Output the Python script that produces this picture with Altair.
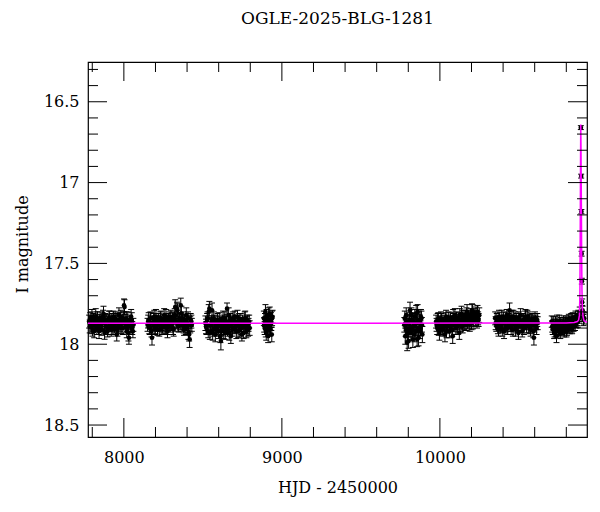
import altair as alt
import pandas as pd

# ---- photometry, by season (HJD-2450000, I mag, error) ----
s17_hjd = [7780, 7787, 7794, 7801, 7808, 7815, 7822, 7829, 7836, 7843, 7850, 7857, 7864, 7871, 7878, 7885, 7892, 7899, 7906, 7913,
           7920, 7927, 7934, 7941, 7948, 7955, 7962, 7969, 7976, 7983, 7990, 7997, 8004, 8011, 8018, 8025, 8032, 8039, 8046, 8053, 8060]
s17_mag = [17.86, 17.84, 17.89, 17.91, 17.85, 17.88, 17.83, 17.90, 17.87, 17.92, 17.84, 17.88, 17.86, 17.81, 17.93, 17.87, 17.85, 17.90, 17.84, 17.88,
           17.91, 17.86, 17.83, 17.89, 17.87, 17.94, 17.85, 17.82, 17.88, 17.90, 17.86, 17.84, 17.77, 17.89, 17.92, 17.85, 17.96, 17.87, 17.83, 17.90, 17.88]
s17_err = [0.040, 0.035, 0.045, 0.040, 0.040, 0.035, 0.050, 0.040, 0.040, 0.045, 0.040, 0.035, 0.040, 0.045, 0.040, 0.040, 0.035, 0.040, 0.045, 0.040,
           0.040, 0.040, 0.035, 0.040, 0.050, 0.040, 0.040, 0.045, 0.040, 0.035, 0.040, 0.040, 0.045, 0.040, 0.040, 0.050, 0.040, 0.040, 0.045, 0.040, 0.040]
s17b_hjd = [7784, 7791, 7798, 7805, 7812, 7819, 7826, 7833, 7840, 7847, 7854, 7861, 7868, 7875, 7882, 7889, 7896, 7903, 7910, 7917,
            7924, 7931, 7938, 7945, 7952, 7959, 7966, 7973, 7980, 7987, 7994, 8001, 8008, 8015, 8022, 8029, 8036, 8043, 8050, 8057]
s17b_mag = [17.89, 17.86, 17.83, 17.88, 17.92, 17.85, 17.87, 17.84, 17.90, 17.86, 17.88, 17.91, 17.83, 17.87, 17.85, 17.89, 17.92, 17.86, 17.84, 17.87,
            17.85, 17.90, 17.88, 17.84, 17.86, 17.91, 17.89, 17.85, 17.83, 17.87, 17.90, 17.76, 17.86, 17.84, 17.88, 17.93, 17.86, 17.89, 17.85, 17.92]

s18_hjd = [8150, 8157, 8164, 8171, 8178, 8185, 8192, 8199, 8206, 8213, 8220, 8227, 8234, 8241, 8248, 8255, 8262, 8269, 8276, 8283,
           8290, 8297, 8304, 8311, 8318, 8325, 8332, 8339, 8346, 8353, 8360, 8367, 8374, 8381, 8388, 8395, 8402, 8409, 8416, 8423, 8430]
s18_mag = [17.88, 17.85, 17.90, 17.84, 17.96, 17.87, 17.83, 17.89, 17.86, 17.91, 17.85, 17.88, 17.84, 17.90, 17.87, 17.82, 17.89, 17.86, 17.92, 17.85,
           17.88, 17.83, 17.87, 17.90, 17.84, 17.77, 17.86, 17.79, 17.89, 17.85, 17.76, 17.88, 17.84, 17.91, 17.86, 17.82, 17.89, 17.93, 17.97, 17.85, 17.88]
s18_err = [0.040, 0.045, 0.040, 0.035, 0.045, 0.040, 0.040, 0.045, 0.040, 0.035, 0.040, 0.040, 0.045, 0.040, 0.035, 0.040, 0.045, 0.040, 0.040, 0.040,
           0.035, 0.040, 0.045, 0.040, 0.040, 0.045, 0.040, 0.040, 0.035, 0.040, 0.045, 0.040, 0.040, 0.035, 0.040, 0.045, 0.040, 0.040, 0.050, 0.040, 0.040]
s18b_hjd = [8154, 8161, 8168, 8175, 8182, 8189, 8196, 8203, 8210, 8217, 8224, 8231, 8238, 8245, 8252, 8259, 8266, 8273, 8280, 8287,
            8294, 8301, 8308, 8315, 8322, 8329, 8336, 8343, 8350, 8357, 8364, 8371, 8378, 8385, 8392, 8399, 8406, 8413, 8420, 8427]
s18b_mag = [17.86, 17.89, 17.84, 17.92, 17.87, 17.85, 17.90, 17.83, 17.88, 17.86, 17.91, 17.84, 17.87, 17.89, 17.85, 17.88, 17.83, 17.90, 17.86, 17.84,
            17.89, 17.87, 17.85, 17.91, 17.82, 17.86, 17.78, 17.88, 17.84, 17.87, 17.81, 17.86, 17.89, 17.85, 17.90, 17.87, 17.84, 17.94, 17.88, 17.86]

s19_hjd = [8516, 8523, 8530, 8537, 8544, 8551, 8558, 8565, 8572, 8579, 8586, 8593, 8600, 8607, 8614, 8621, 8628, 8635, 8642, 8649,
           8656, 8663, 8670, 8677, 8684, 8691, 8698, 8705, 8712, 8719, 8726, 8733, 8740, 8747, 8754, 8761, 8768, 8775, 8782, 8789, 8796]
s19_mag = [17.87, 17.90, 17.84, 17.80, 17.93, 17.88, 17.79, 17.91, 17.86, 17.94, 17.89, 17.85, 17.92, 17.87, 17.98, 17.90, 17.84, 17.88, 17.93, 17.86,
           17.91, 17.82, 17.89, 17.95, 17.87, 17.84, 17.90, 17.86, 17.92, 17.83, 17.88, 17.91, 17.85, 17.94, 17.87, 17.89, 17.84, 17.92, 17.86, 17.88, 17.90]
s19_err = [0.045, 0.040, 0.040, 0.045, 0.040, 0.035, 0.045, 0.040, 0.040, 0.045, 0.040, 0.040, 0.045, 0.040, 0.055, 0.040, 0.045, 0.040, 0.040, 0.035,
           0.040, 0.045, 0.040, 0.045, 0.040, 0.040, 0.035, 0.040, 0.045, 0.040, 0.040, 0.045, 0.040, 0.040, 0.035, 0.040, 0.045, 0.040, 0.040, 0.040, 0.045]
s19b_hjd = [8520, 8527, 8534, 8541, 8548, 8555, 8562, 8569, 8576, 8583, 8590, 8597, 8604, 8611, 8618, 8625, 8632, 8639, 8646, 8653,
            8660, 8667, 8674, 8681, 8688, 8695, 8702, 8709, 8716, 8723, 8730, 8737, 8744, 8751, 8758, 8765, 8772, 8779, 8786, 8793]
s19b_mag = [17.89, 17.85, 17.92, 17.78, 17.88, 17.86, 17.93, 17.84, 17.90, 17.87, 17.91, 17.88, 17.85, 17.95, 17.89, 17.86, 17.92, 17.84, 17.90, 17.78,
            17.87, 17.93, 17.85, 17.88, 17.91, 17.86, 17.83, 17.89, 17.87, 17.92, 17.85, 17.88, 17.90, 17.86, 17.93, 17.84, 17.89, 17.87, 17.91, 17.86]

s20_hjd = [8886, 8891, 8896, 8901, 8906, 8911, 8916, 8921, 8926, 8931, 8936, 8941]
s20_mag = [17.84, 17.90, 17.80, 17.93, 17.86, 17.88, 17.82, 17.91, 17.87, 17.85, 17.94, 17.83]
s20_err = [0.045, 0.040, 0.045, 0.045, 0.040, 0.040, 0.045, 0.040, 0.040, 0.045, 0.045, 0.040]
s20b_hjd = [8888, 8893, 8898, 8903, 8908, 8913, 8918, 8923, 8928, 8933, 8938]
s20b_mag = [17.88, 17.85, 17.91, 17.83, 17.89, 17.95, 17.86, 17.81, 17.90, 17.87, 17.84]

s22_hjd = [9775, 9781, 9787, 9793, 9799, 9805, 9811, 9817, 9823, 9829, 9835, 9841, 9847, 9853, 9859, 9865, 9871, 9877, 9883, 9889]
s22_mag = [17.88, 17.95, 17.82, 17.99, 17.86, 17.91, 17.79, 17.93, 17.85, 17.97, 17.89, 17.83, 17.92, 17.87, 17.80, 17.96, 17.86, 17.90, 17.84, 17.94]
s22_err = [0.045, 0.050, 0.045, 0.050, 0.045, 0.045, 0.050, 0.045, 0.045, 0.050, 0.045, 0.045, 0.050, 0.045, 0.045, 0.050, 0.045, 0.045, 0.045, 0.050]
s22b_hjd = [9778, 9784, 9790, 9796, 9802, 9808, 9814, 9820, 9826, 9832, 9838, 9844, 9850, 9856, 9862, 9868, 9874, 9880, 9886]
s22b_mag = [17.84, 17.90, 17.87, 17.93, 17.98, 17.85, 17.89, 17.82, 17.91, 17.86, 17.94, 17.88, 17.81, 17.97, 17.90, 17.85, 17.92, 17.83, 17.88]

s23_hjd = [9976, 9983, 9990, 9997, 10004, 10011, 10018, 10025, 10032, 10039, 10046, 10053, 10060, 10067, 10074, 10081, 10088, 10095, 10102, 10109,
           10116, 10123, 10130, 10137, 10144, 10151, 10158, 10165, 10172, 10179, 10186, 10193, 10200, 10207, 10214, 10221, 10228, 10235, 10242, 10249]
s23_mag = [17.86, 17.90, 17.84, 17.93, 17.88, 17.85, 17.91, 17.87, 17.94, 17.83, 17.89, 17.86, 17.92, 17.84, 17.88, 17.95, 17.85, 17.82, 17.90, 17.87,
           17.84, 17.93, 17.86, 17.81, 17.89, 17.85, 17.83, 17.88, 17.80, 17.86, 17.84, 17.82, 17.87, 17.80, 17.85, 17.83, 17.81, 17.86, 17.84, 17.82]
s23_err = [0.040, 0.040, 0.035, 0.045, 0.040, 0.040, 0.040, 0.035, 0.045, 0.040, 0.040, 0.040, 0.040, 0.035, 0.040, 0.045, 0.040, 0.040, 0.040, 0.040,
           0.035, 0.040, 0.040, 0.045, 0.040, 0.040, 0.040, 0.035, 0.045, 0.040, 0.040, 0.040, 0.040, 0.045, 0.040, 0.035, 0.040, 0.040, 0.040, 0.045]
s23b_hjd = [9979, 9986, 9993, 10000, 10007, 10014, 10021, 10028, 10035, 10042, 10049, 10056, 10063, 10070, 10077, 10084, 10091, 10098, 10105, 10112,
            10119, 10126, 10133, 10140, 10147, 10154, 10161, 10168, 10175, 10182, 10189, 10196, 10203, 10210, 10217, 10224, 10231, 10238, 10245]
s23b_mag = [17.88, 17.85, 17.91, 17.87, 17.84, 17.90, 17.86, 17.89, 17.85, 17.92, 17.87, 17.84, 17.89, 17.86, 17.91, 17.83, 17.88, 17.86, 17.84, 17.89,
            17.85, 17.82, 17.88, 17.86, 17.83, 17.87, 17.85, 17.81, 17.86, 17.84, 17.88, 17.83, 17.79, 17.86, 17.82, 17.85, 17.83, 17.80, 17.85]

s24_hjd = [10350, 10357, 10364, 10371, 10378, 10385, 10392, 10399, 10406, 10413, 10420, 10427, 10434, 10441, 10448, 10455, 10462, 10469, 10476, 10483,
           10490, 10497, 10504, 10511, 10518, 10525, 10532, 10539, 10546, 10553, 10560, 10567, 10574, 10581, 10588, 10595, 10602, 10609, 10616]
s24_mag = [17.84, 17.88, 17.86, 17.91, 17.85, 17.89, 17.83, 17.87, 17.92, 17.86, 17.84, 17.90, 17.85, 17.79, 17.88, 17.83, 17.91, 17.86, 17.84, 17.89,
           17.87, 17.93, 17.85, 17.82, 17.88, 17.86, 17.90, 17.84, 17.87, 17.83, 17.89, 17.85, 17.91, 17.86, 17.88, 17.96, 17.84, 17.87, 17.85]
s24_err = [0.040, 0.040, 0.035, 0.040, 0.045, 0.040, 0.040, 0.040, 0.045, 0.040, 0.035, 0.040, 0.040, 0.045, 0.040, 0.040, 0.040, 0.035, 0.040, 0.040,
           0.045, 0.040, 0.040, 0.040, 0.035, 0.040, 0.040, 0.045, 0.040, 0.040, 0.040, 0.035, 0.040, 0.040, 0.040, 0.045, 0.040, 0.040, 0.040]
s24b_hjd = [10353, 10360, 10367, 10374, 10381, 10388, 10395, 10402, 10409, 10416, 10423, 10430, 10437, 10444, 10451, 10458, 10465, 10472, 10479, 10486,
            10493, 10500, 10507, 10514, 10521, 10528, 10535, 10542, 10549, 10556, 10563, 10570, 10577, 10584, 10591, 10598, 10605, 10612, 10619]
s24b_mag = [17.87, 17.85, 17.90, 17.83, 17.88, 17.86, 17.91, 17.84, 17.87, 17.89, 17.82, 17.86, 17.88, 17.84, 17.90, 17.86, 17.83, 17.88, 17.91, 17.85,
            17.87, 17.84, 17.89, 17.86, 17.92, 17.85, 17.87, 17.83, 17.89, 17.86, 17.84, 17.90, 17.87, 17.85, 17.92, 17.88, 17.86, 17.90, 17.87]

s25_hjd = [10708, 10714, 10720, 10726, 10732, 10738, 10744, 10750, 10756, 10762, 10768, 10774, 10780, 10786, 10792, 10798, 10804, 10810, 10816, 10822,
           10828, 10834, 10840, 10846, 10852, 10858, 10864, 10870, 10876, 10882, 10885]
s25_mag = [17.86, 17.90, 17.88, 17.92, 17.87, 17.95, 17.89, 17.91, 17.86, 17.93, 17.88, 17.90, 17.87, 17.92, 17.89, 17.86, 17.91, 17.88, 17.85, 17.90,
           17.87, 17.89, 17.84, 17.88, 17.86, 17.83, 17.87, 17.85, 17.82, 17.84, 17.80]
s25_err = [0.035, 0.040, 0.035, 0.035, 0.040, 0.040, 0.035, 0.035, 0.040, 0.035, 0.035, 0.040, 0.035, 0.035, 0.040, 0.035, 0.035, 0.040, 0.035, 0.035,
           0.040, 0.035, 0.035, 0.040, 0.035, 0.035, 0.030, 0.035, 0.030, 0.030, 0.030]
s25b_hjd = [10711, 10717, 10723, 10729, 10735, 10741, 10747, 10753, 10759, 10765, 10771, 10777, 10783, 10789, 10795, 10801, 10807, 10813, 10819, 10825,
            10831, 10837, 10843, 10849, 10855, 10861, 10867, 10873, 10879]
s25b_mag = [17.89, 17.87, 17.93, 17.88, 17.91, 17.86, 17.92, 17.88, 17.90, 17.87, 17.91, 17.89, 17.86, 17.90, 17.88, 17.92, 17.87, 17.89, 17.86, 17.88,
            17.85, 17.90, 17.87, 17.85, 17.88, 17.86, 17.84, 17.86, 17.83]

event_hjd = [10892, 10894, 10895.5, 10897, 10898.5, 10900.5, 10903, 10906, 10909, 10913]
event_mag = [16.66, 16.96, 17.18, 17.44, 17.61, 17.74, 17.79, 17.83, 17.85, 17.84]
event_err = [0.012, 0.012, 0.013, 0.015, 0.018, 0.020, 0.025, 0.030, 0.035, 0.035]

# ---- microlensing model curve ----
model_hjd = [7773, 8500, 9500, 10500, 10800, 10850, 10870, 10878, 10883, 10886, 10888, 10890, 10891.5,
             10893, 10895, 10897, 10899, 10902, 10906, 10912, 10931]
model_mag = [17.870, 17.870, 17.870, 17.869, 17.868, 17.866, 17.860, 17.850, 17.820, 17.700, 17.350, 16.900, 16.640,
             16.780, 17.080, 17.420, 17.660, 17.780, 17.830, 17.855, 17.865]

# ---- axis ticks ----
x_major = [8000, 9000, 10000]
x_minor = [7800, 8200, 8400, 8600, 8800, 9200, 9400, 9600, 9800, 10200, 10400, 10600, 10800]
y_major = [16.5, 17, 17.5, 18, 18.5]
y_minor = [16.3, 16.4, 16.6, 16.7, 16.8, 16.9, 17.1, 17.2, 17.3, 17.4, 17.6, 17.7, 17.8, 17.9,
           18.1, 18.2, 18.3, 18.4]

FONT = "DejaVu Serif"
W, H = 499, 375
XDOM = [7773, 10931]
YDOM = [16.254, 18.574]

seasons = [(s17_hjd, s17_mag, s17_err), (s17b_hjd, s17b_mag, s17_err[:len(s17b_hjd)]),
           (s18_hjd, s18_mag, s18_err), (s18b_hjd, s18b_mag, s18_err[:len(s18b_hjd)]),
           (s19_hjd, s19_mag, s19_err), (s19b_hjd, s19b_mag, s19_err[:len(s19b_hjd)]),
           (s20_hjd, s20_mag, s20_err), (s20b_hjd, s20b_mag, s20_err[:len(s20b_hjd)]),
           (s22_hjd, s22_mag, s22_err), (s22b_hjd, s22b_mag, s22_err[:len(s22b_hjd)]),
           (s23_hjd, s23_mag, s23_err), (s23b_hjd, s23b_mag, s23_err[:len(s23b_hjd)]),
           (s24_hjd, s24_mag, s24_err), (s24b_hjd, s24b_mag, s24_err[:len(s24b_hjd)]),
           (s25_hjd, s25_mag, s25_err), (s25b_hjd, s25b_mag, s25_err[:len(s25b_hjd)]),
           (event_hjd, event_mag, event_err)]
phot = pd.concat([pd.DataFrame({"hjd": h, "mag": m, "err": e}) for h, m, e in seasons], ignore_index=True)
phot["lo"] = phot["mag"] - phot["err"]
phot["hi"] = phot["mag"] + phot["err"]
model = pd.DataFrame({"hjd": model_hjd, "mag": model_mag})

xscale = alt.Scale(domain=XDOM, nice=False, zero=False)
yscale = alt.Scale(domain=YDOM, nice=False, zero=False, reverse=True)
xaxis = alt.Axis(title="HJD - 2450000", values=x_major, format="d", ticks=False, tickSize=0, domain=False,
                 grid=False, labelFont=FONT, labelFontSize=16, labelColor="black", labelPadding=20,
                 labelBaseline="middle", titleFont=FONT, titleFontSize=16, titleFontWeight="normal",
                 titleColor="black", titleY=50, titleBaseline="middle")
yaxis = alt.Axis(title="I magnitude", values=y_major, format="~g", ticks=False, tickSize=0, domain=False,
                 grid=False, labelFont=FONT, labelFontSize=16, labelColor="black", labelPadding=9,
                 titleFont=FONT, titleFontSize=16, titleFontWeight="normal", titleColor="black",
                 titleX=-66, titleY=182, titleBaseline="middle")

X = lambda f: alt.X(f, type="quantitative", scale=xscale, axis=xaxis)
Y = lambda f: alt.Y(f, type="quantitative", scale=yscale, axis=yaxis)

base = alt.Chart(phot)
bars = base.mark_rule(color="black", strokeWidth=1).encode(x=X("hjd"), y=Y("lo"), y2="hi")
cap_lo = base.mark_tick(orient="horizontal", size=6, thickness=1, color="black", opacity=1).encode(x=X("hjd"), y=Y("lo"))
cap_hi = base.mark_tick(orient="horizontal", size=6, thickness=1, color="black", opacity=1).encode(x=X("hjd"), y=Y("hi"))
pts = base.mark_circle(size=22, color="black", opacity=1).encode(x=X("hjd"), y=Y("mag"))
line = alt.Chart(model).mark_line(color="#ff00ff", strokeWidth=1.5).encode(x=X("hjd"), y=Y("mag"))

def xt(vals, y0, y1):
    return alt.Chart(pd.DataFrame({"t": vals})).mark_rule(color="black", strokeWidth=1).encode(
        x=X("t"), y=alt.value(y0), y2=alt.value(y1))

def yt(vals, x0, x1):
    return alt.Chart(pd.DataFrame({"t": vals})).mark_rule(color="black", strokeWidth=1).encode(
        y=Y("t"), x=alt.value(x0), x2=alt.value(x1))

ticks = [xt(x_major, H, H - 19), xt(x_major, 0, 19), xt(x_minor, H, H - 10), xt(x_minor, 0, 10),
         yt(y_major, 0, 19), yt(y_major, W, W - 19), yt(y_minor, 0, 10), yt(y_minor, W, W - 10)]

chart = alt.layer(bars, cap_lo, cap_hi, pts, line, *ticks).properties(
    width=W, height=H,
    title=alt.TitleParams("OGLE-2025-BLG-1281", font=FONT, fontSize=17, fontWeight="normal",
                          color="black", anchor="middle", baseline="alphabetic", offset=21),
    autosize=alt.AutoSizeParams(type="none"),
    padding={"left": 80, "top": 54, "right": 5, "bottom": 67},
).configure_view(stroke="black", strokeWidth=1.2)

chart.save("out.html", embed_options={"renderer": "svg", "actions": False})
